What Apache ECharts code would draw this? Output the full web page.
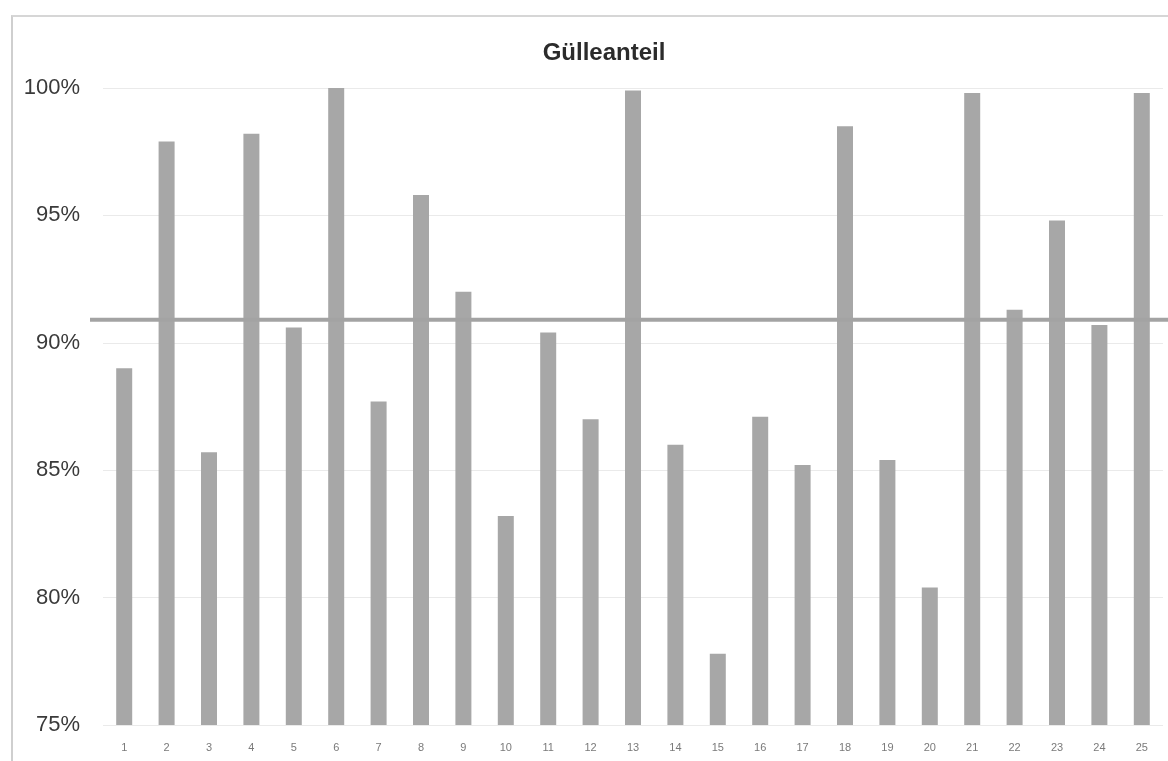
<!DOCTYPE html>
<html>
<head>
<meta charset="utf-8">
<script src="https://cdn.jsdelivr.net/npm/echarts@6/dist/echarts.min.js"></script>
<style>
  html, body { margin: 0; padding: 0; background: #fff; }
  #wrap { position: relative; width: 1168px; height: 761px; overflow: hidden; }
  #chart { position: absolute; left: 0; top: 0; width: 1168px; height: 761px; }
  /* outline of the chart box */
  #frame {
    position: absolute; left: 11px; top: 15px; right: -4px; bottom: -4px;
    border-left: 2px solid #cfcfcf; border-top: 2px solid #d6d6d6;
    pointer-events: none;
  }
</style>
</head>
<body>
<div id="wrap">
  <div id="chart"></div>
  <div id="frame"></div>
</div>
<script>
// Farm numbers along the x axis
const categories = ['1','2','3','4','5','6','7','8','9','10','11','12','13',
                    '14','15','16','17','18','19','20','21','22','23','24','25'];
// Slurry share per farm, in percent
const shares = [89.0, 97.9, 85.7, 98.2, 90.6, 100.0, 87.7, 95.8, 92.0, 83.2,
                90.4, 87.0, 99.9, 86.0, 77.8, 87.1, 85.2, 98.5, 85.4, 80.4,
                99.8, 91.3, 94.8, 90.7, 99.8];
// Average across all farms, in percent
const average = 90.9;
// Value axis range and step
const yMin = 75, yMax = 100, yStep = 5;

const chart = echarts.init(document.getElementById('chart'), null, { renderer: 'canvas' });

const option = {
  animation: false,
  backgroundColor: 'transparent',
  title: {
    text: 'Gülleanteil',
    left: 599,
    top: 36,
    textAlign: 'center',
    textStyle: {
      fontFamily: 'Liberation Sans',
      fontWeight: 'bold',
      fontSize: 24,
      color: '#2b2b2b'
    }
  },
  grid: [
    { left: 103, right: 5, top: 88, bottom: 36 },
    { left: 90, right: 0, top: 88, bottom: 36 }
  ],
  xAxis: [
    {
      type: 'category',
      gridIndex: 0,
      data: categories,
      axisLine: { show: false },
      axisTick: { show: false },
      axisLabel: {
        interval: 0,
        margin: 17,
        fontSize: 11,
        fontFamily: 'Liberation Sans',
        color: '#7a7a7a'
      }
    },
    {
      type: 'value',
      gridIndex: 1,
      min: 0,
      max: 1,
      show: false
    }
  ],
  yAxis: [
    {
      type: 'value',
      gridIndex: 0,
      min: yMin,
      max: yMax,
      interval: yStep,
      axisLine: { show: false },
      axisTick: { show: false },
      axisLabel: {
        formatter: '{value}%',
        margin: 23,
        fontSize: 22,
        fontFamily: 'Liberation Sans',
        color: '#3a3a3a'
      },
      splitLine: { show: true, lineStyle: { color: '#eaeaea', width: 1 } }
    },
    {
      type: 'value',
      gridIndex: 1,
      min: yMin,
      max: yMax,
      show: false
    }
  ],
  series: [
    {
      name: 'Gülleanteil',
      type: 'bar',
      xAxisIndex: 0,
      yAxisIndex: 0,
      data: shares,
      barWidth: 16,
      itemStyle: { color: '#a7a7a7' },
      z: 2
    },
    {
      name: 'Durchschnitt',
      type: 'line',
      xAxisIndex: 1,
      yAxisIndex: 1,
      data: [[0, average], [1, average]],
      symbol: 'none',
      lineStyle: { color: '#a3a3a3', width: 4 },
      z: 3
    }
  ]
};

chart.setOption(option);
</script>
</body>
</html>
